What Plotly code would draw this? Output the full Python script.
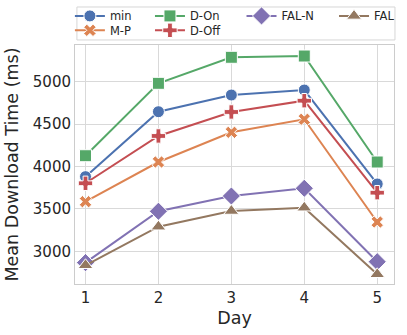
import plotly.graph_objects as go

days = [1, 2, 3, 4, 5]
series_names = ["min", "M-P", "D-On", "D-Off", "FAL-N", "FAL"]
min_vals = [3880, 4646, 4843, 4902, 3794]
mp_vals = [3585, 4053, 4403, 4557, 3345]
don_vals = [4127, 4981, 5288, 5303, 4053]
doff_vals = [3802, 4360, 4643, 4776, 3691]
faln_vals = [2866, 3472, 3652, 3743, 2877]
fal_vals = [2835, 3290, 3475, 3514, 2729]
y_ticks = [3000, 3500, 4000, 4500, 5000]

values = {"min": min_vals, "M-P": mp_vals, "D-On": don_vals,
          "D-Off": doff_vals, "FAL-N": faln_vals, "FAL": fal_vals}

# seaborn "deep" colours and marker per series
styles = {
    "min": ("#4C72B0", "circle", 12),
    "M-P": ("#DD8452", "x", 11),
    "D-On": ("#55A868", "square", 12),
    "D-Off": ("#C44E52", "cross", 12),
    "FAL-N": ("#8172B3", "diamond", 14),
    "FAL": ("#937860", "triangle-up", 13),
}

# one small legend per entry so the legend reads in columns like matplotlib
# x in paper units, y in container units (keeps the margins fixed)
legend_pos = {
    "min": (-0.016, 0.9525), "M-P": (-0.016, 0.9095),
    "D-On": (0.235, 0.9525), "D-Off": (0.235, 0.9095),
    "FAL-N": (0.522, 0.9525), "FAL": (0.812, 0.9525),
}

fig = go.Figure()
layout_legends = {}
for i, name in enumerate(series_names):
    color, symbol, size = styles[name]
    lid = "legend" if i == 0 else f"legend{i + 1}"
    fig.add_trace(go.Scatter(
        x=days, y=values[name], name=name, mode="lines+markers",
        line=dict(color=color, width=2),
        marker=dict(symbol=symbol, size=size, color=color,
                    line=dict(color="white", width=1)),
        legend=lid, showlegend=True,
    ))
    lx, ly = legend_pos[name]
    layout_legends[lid] = dict(
        xref="paper", yref="container", x=lx, y=ly,
        xanchor="left", yanchor="middle",
        font=dict(size=11.5), bgcolor="rgba(0,0,0,0)", borderwidth=0,
    )

fig.update_layout(
    width=407, height=335,
    margin=dict(l=75, r=13, t=45, b=51),
    showlegend=True,
    plot_bgcolor="white", paper_bgcolor="white",
    font=dict(family="DejaVu Sans", color="#262626"),
    xaxis=dict(
        title=dict(text="Day", font=dict(size=17.5), standoff=5), automargin=False,
        range=[0.856, 5.23], tickvals=days, tickfont=dict(size=15),
        showgrid=True, gridcolor="#d9d9d9", zeroline=False,
        showline=True, linecolor="#cccccc", mirror=True, ticks="",
    ),
    yaxis=dict(
        title=dict(text="Mean Download Time (ms)", font=dict(size=17.5), standoff=9),
        automargin=False,
        range=[2614, 5433], tickvals=y_ticks, tickfont=dict(size=15),
        showgrid=True, gridcolor="#d9d9d9", zeroline=False,
        showline=True, linecolor="#cccccc", mirror=True, ticks="",
    ),
    shapes=[dict(type="rect", xref="paper", yref="paper",
                 x0=0.006, x1=1.003, y0=1.021, y1=1.159,
                 line=dict(color="#d6d6d6", width=1), fillcolor="white", layer="below")],
    **layout_legends,
)

fig.write_html("out.html", config={"displayModeBar": False},
               post_script="document.body.style.margin='0';")
